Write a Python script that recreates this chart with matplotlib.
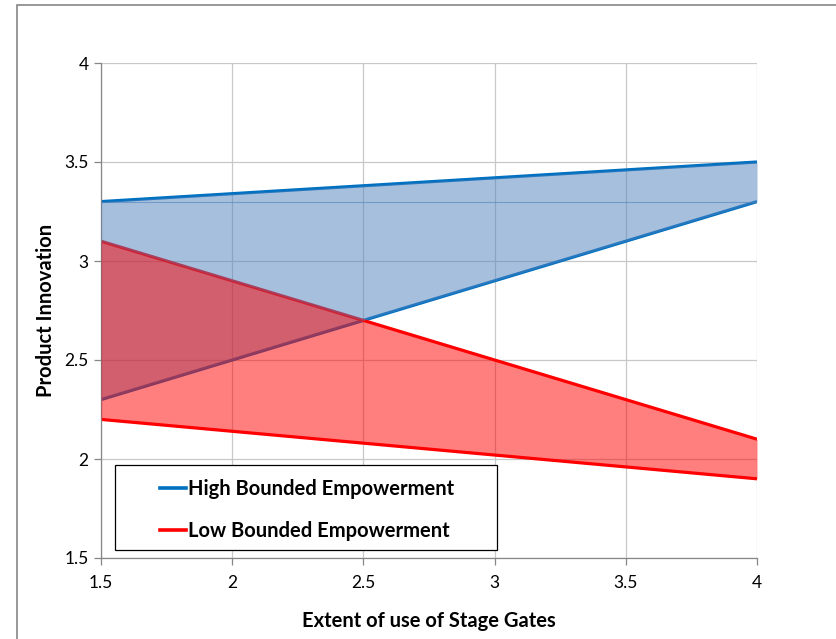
import matplotlib.pyplot as plt
from matplotlib.patches import Rectangle
from matplotlib.lines import Line2D

plt.rcParams['font.family'] = ['Lato', 'DejaVu Sans']

# data
x = [1.5, 2.5, 4]
high_top = [3.3, 3.38, 3.5]
high_bot = [2.3, 2.7, 3.3]
low_top = [3.1, 2.7, 2.1]
low_bot = [2.2, 2.08, 1.9]
xticks = [1.5, 2, 2.5, 3, 3.5, 4]
yticks = [1.5, 2, 2.5, 3, 3.5, 4]

blue = '#0070C0'
red = '#FF0000'

fig = plt.figure(figsize=(8.36, 6.39), dpi=100)
ax = fig.add_axes([101/836, 1-558/639, 656/836, 495/639])

# lines first, fills on top (semi transparent) like the excel picture
ax.plot(x, high_top, color=blue, lw=2.3, zorder=2, solid_capstyle='butt')
ax.plot(x, high_bot, color=blue, lw=2.3, zorder=2, solid_capstyle='butt')
ax.plot(x, low_top, color=red, lw=2.3, zorder=2, solid_capstyle='butt')
ax.plot(x, low_bot, color=red, lw=2.3, zorder=2, solid_capstyle='butt')

ax.fill_between(x, high_bot, high_top, color='#4F81BD', alpha=0.5, lw=0, zorder=3)
ax.fill_between(x, low_bot, low_top, color=red, alpha=0.5, lw=0, zorder=4)
# edge artefact of the area series
ax.plot([x[0], x[-1]], [high_top[0], high_bot[-1]], color='#4F81BD', lw=0.8, alpha=0.6, zorder=3)

ax.set_xlim(1.5, 4)
ax.set_ylim(1.5, 4)
ax.set_xticks(xticks)
ax.set_yticks(yticks)
ax.set_xticklabels([f'{v:g}' for v in xticks])
ax.set_yticklabels([f'{v:g}' for v in yticks])
ax.set_axisbelow(True)
ax.grid(True, color='#C8C8C8', lw=0.9)
for s in ['top', 'right']:
    ax.spines[s].set_visible(False)
for s in ['left', 'bottom']:
    ax.spines[s].set_color('#868686')
    ax.spines[s].set_linewidth(0.9)
ax.tick_params(colors='#868686', labelcolor='black', labelsize=12.5, length=5, width=0.9, pad=4)
ax.tick_params(axis='x', pad=7)

ax.set_xlabel('Extent of use of Stage Gates', fontsize=14.5, fontweight='bold', va='top')
ax.set_ylabel('Product Innovation', fontsize=14.5, fontweight='bold')
ax.xaxis.set_label_coords(0.5, (558-611)/495)
ax.yaxis.set_label_coords((56-101)/656, 0.5)

# legend box
ax.add_patch(Rectangle((0.0213, 0.0162), 0.5824, 0.1717, transform=ax.transAxes,
                       facecolor='white', edgecolor='black', lw=0.9, zorder=5))
handles = [Line2D([], [], color=blue, lw=2.6), Line2D([], [], color=red, lw=2.6)]
leg = ax.legend(handles, ['High Bounded Empowerment', 'Low Bounded Empowerment'],
                loc='upper left', bbox_to_anchor=(0.0899, 0.160), frameon=False,
                borderpad=0, borderaxespad=0, handlelength=1.3, handletextpad=0.1,
                labelspacing=1.1, prop={'weight': 'bold', 'size': 14.5})
leg.set_zorder(6)

# outer border of the chart area
fig.patches.append(Rectangle((17/836, -0.05), 1.0, 1.05 - 5/639, transform=fig.transFigure,
                             facecolor='none', edgecolor='#868686', lw=1.2))

fig.savefig('out.png', dpi=100)
